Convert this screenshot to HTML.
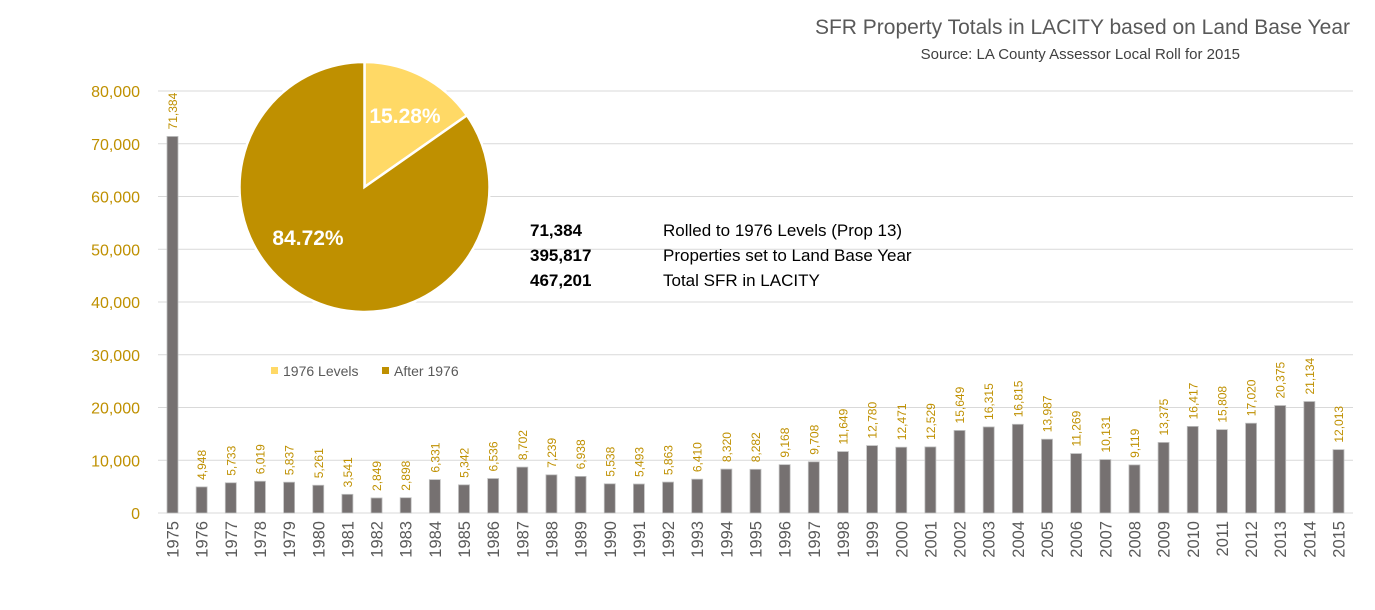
<!DOCTYPE html>
<html><head><meta charset="utf-8"><style>
body{margin:0;background:#fff;}
svg{display:block;font-family:"Liberation Sans",sans-serif;}
</style></head><body>
<svg id="c" width="1375" height="610">
<text x="1350" y="34" text-anchor="end" font-size="21" fill="#595959">SFR Property Totals in LACITY based on Land Base Year</text>
<text x="1240" y="59" text-anchor="end" font-size="15" fill="#404040">Source: LA County Assessor Local Roll for 2015</text>
<g id="grid"></g><g id="bars"></g><g id="pie"></g>
<g font-size="17" fill="#000">
<text x="530" y="236" font-weight="bold">71,384</text><text x="663" y="236">Rolled to 1976 Levels (Prop 13)</text>
<text x="530" y="261" font-weight="bold">395,817</text><text x="663" y="261">Properties set to Land Base Year</text>
<text x="530" y="286" font-weight="bold">467,201</text><text x="663" y="286">Total SFR in LACITY</text>
</g>
<g font-size="14" fill="#595959">
<rect x="271" y="367" width="7" height="7" fill="#ffd966"/><text x="283" y="376">1976 Levels</text>
<rect x="382" y="367" width="7" height="7" fill="#bf9000"/><text x="394" y="376">After 1976</text>
</g>
</svg>
<script>
const years=[];for(let y=1975;y<=2015;y++)years.push(String(y));
const values=[71384,4948,5733,6019,5837,5261,3541,2849,2898,6331,5342,6536,8702,7239,6938,5538,5493,5863,6410,8320,8282,9168,9708,11649,12780,12471,12529,15649,16315,16815,13987,11269,10131,9119,13375,16417,15808,17020,20375,21134,12013];
const yTicks=[0,10000,20000,30000,40000,50000,60000,70000,80000];
const pieLabels=['1976 Levels','After 1976'];
const pieValues=[71384,395817];
const NS='http://www.w3.org/2000/svg';
function el(t,a,p){const e=document.createElementNS(NS,t);for(const k in a)e.setAttribute(k,a[k]);p.appendChild(e);return e;}
const y0=513,pxPer=(513-91)/80000;
const Y=v=>y0-v*pxPer;
const X=i=>172.5+i*29.15;
const grid=document.getElementById('grid'),bars=document.getElementById('bars'),pie=document.getElementById('pie');
yTicks.forEach(t=>{
 const l=el('line',{x1:158,x2:1353,y1:Y(t),y2:Y(t),stroke:'#d9d9d9','stroke-width':1},grid);
 
 
 const tx=el('text',{x:140,y:Y(t)+6,'text-anchor':'end','font-size':16,fill:'#bf9000'},grid);
 tx.textContent=t.toLocaleString('en-US');
 
 
});
values.forEach((v,i)=>{
 const x=X(i);
 const r=el('rect',{x:x-5.5,y:Y(v),width:11,height:y0-Y(v),fill:'#767171',stroke:'#bfbfbf','stroke-width':0.8},bars);
 
 
 const vt=el('text',{transform:`translate(${x+4.5},${Y(v)-7}) rotate(-90)`,'font-size':12,fill:'#bf9000'},bars);
 vt.textContent=v.toLocaleString('en-US');
 
 
 const yt=el('text',{transform:`translate(${x+6},521) rotate(-90)`,'text-anchor':'end','font-size':16.5,fill:'#595959'},bars);
 yt.textContent=years[i];
 
 
});
const ax=el('line',{x1:158,x2:1353,y1:y0,y2:y0,stroke:'#d9d9d9'},grid);


const cx=364.5,cy=187,R=125;
const total=pieValues.reduce((a,b)=>a+b,0);
const cols=['#ffd966','#bf9000'];
let a0=-Math.PI/2;
pieValues.forEach((v,i)=>{
 const a1=a0+v/total*2*Math.PI;
 const large=(a1-a0)>Math.PI?1:0;
 const d=`M${cx},${cy}L${cx+R*Math.cos(a0)},${cy+R*Math.sin(a0)}A${R},${R} 0 ${large} 1 ${cx+R*Math.cos(a1)},${cy+R*Math.sin(a1)}Z`;
 const p=el('path',{d:d,fill:cols[i],stroke:'#fff','stroke-width':2.5},pie);
 
 
 a0=a1;
});
const pl=[[405,123],[308,245]];
pieValues.forEach((v,i)=>{
 const t=el('text',{x:pl[i][0],y:pl[i][1],'text-anchor':'middle','font-size':21,'font-weight':'bold',fill:'#fff'},pie);
 t.textContent=(v/total*100).toFixed(2)+'%';
 
 
});
</script>
</body></html>
